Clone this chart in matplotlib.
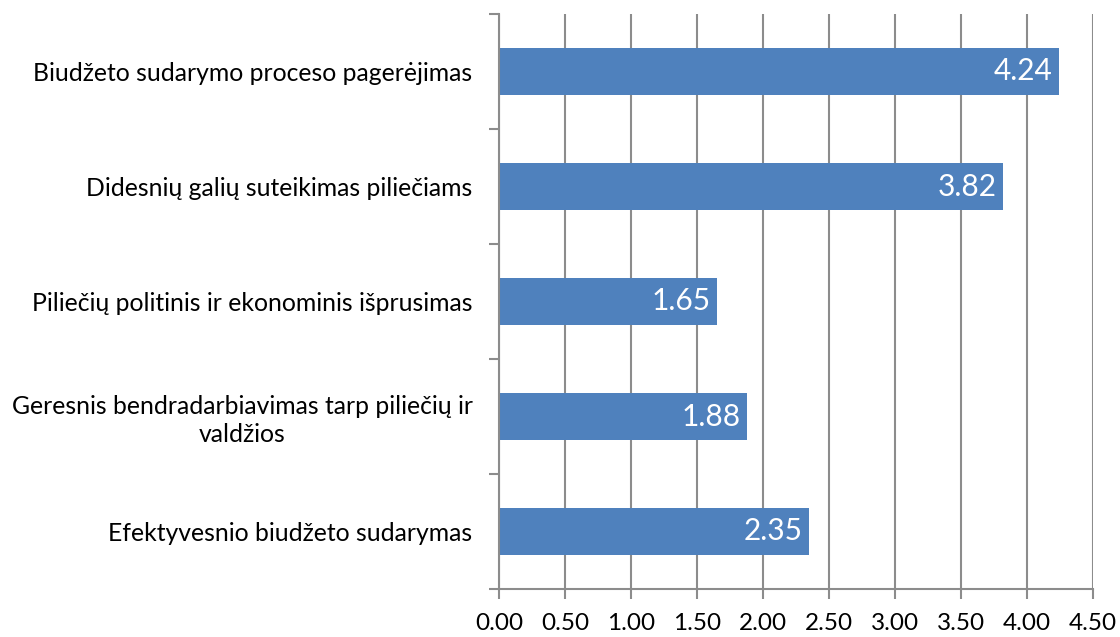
import matplotlib
matplotlib.use("Agg")
import matplotlib.pyplot as plt
import numpy as np

categories = [
    "Biudžeto sudarymo proceso pagerėjimas",
    "Didesnių galių suteikimas piliečiams",
    "Piliečių politinis ir ekonominis išprusimas",
    "Geresnis bendradarbiavimas tarp piliečių ir\nvaldžios",
    "Efektyvesnio biudžeto sudarymas",
]
values = [4.24, 3.82, 1.65, 1.88, 2.35]
x_ticks = [0.0, 0.5, 1.0, 1.5, 2.0, 2.5, 3.0, 3.5, 4.0, 4.5]

plt.rcParams['font.family'] = ['Lato', 'DejaVu Sans']

fig = plt.figure(figsize=(11.2, 6.37), dpi=100)
ax = fig.add_axes([499/1120, 1 - 589/637, (1093 - 499)/1120, (589 - 14)/637])

n = len(categories)
ypos = np.arange(n)[::-1]
bar_color = "#4f81bd"
ax.barh(ypos, values, height=0.4, color=bar_color, zorder=3)

for y, v in zip(ypos, values):
    ax.text(v - 0.05, y, f"{v:.2f}", ha="right", va="center",
            color="white", fontsize=21.5, zorder=4)

ax.set_xlim(0, 4.5)
ax.set_ylim(-0.5, n - 0.5)
ax.set_xticks(x_ticks)
ax.set_xticklabels([f"{t:.2f}" for t in x_ticks], fontsize=17.5)

ax.set_yticks(ypos)
ax.set_yticklabels(categories, fontsize=17.8, multialignment="center", linespacing=1.25)
ax.tick_params(axis="y", length=0, pad=19)
ax.set_yticks(np.arange(-0.5, n, 1.0), minor=True)
ax.tick_params(axis="y", which="minor", length=7, width=1.5, color="#8c8c8c", direction="out")
ax.tick_params(axis="x", length=7, width=1.5, color="#8c8c8c", direction="out", pad=10)

ax.grid(axis="x", color="#8c8c8c", linewidth=1.5, zorder=0)
for s in ["top", "right"]:
    ax.spines[s].set_visible(False)
for s in ["left", "bottom"]:
    ax.spines[s].set_color("#8c8c8c")
    ax.spines[s].set_linewidth(1.5)
    ax.spines[s].set_zorder(5)

fig.savefig("out.png", dpi=100)
